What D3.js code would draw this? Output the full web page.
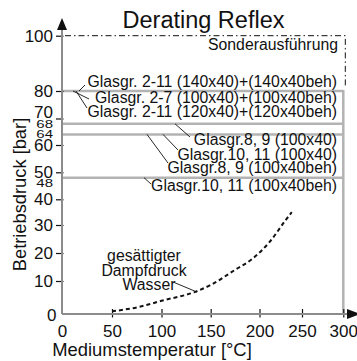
<!DOCTYPE html>
<html>
<head>
<meta charset="utf-8">
<script src="https://cdn.jsdelivr.net/npm/d3@7"></script>
<style>
  body { margin: 0; background: #fff; }
  svg { display: block; }
  text { font-family: 'Liberation Sans', Arial, sans-serif; fill: #111; }
</style>
</head>
<body>
<div id="chart"></div>
<script>
// values
var pressureTicks = [0, 10, 20, 30, 40, 50, 60, 70, 80, 100];
var limitTicks = [68, 64, 48];
var tempTicks = [0, 50, 100, 150, 200, 250, 300];
var limitLines = [80, 68, 64, 48];
var specialLimit = 100;
var maxTemp = 300;
var glassLabels = [
  'Glasgr. 2-11 (140x40)+(140x40beh)',
  'Glasgr. 2-7 (100x40)+(100x40beh)',
  'Glasgr. 2-11 (120x40)+(120x40beh)',
  'Glasgr.8, 9 (100x40)',
  'Glasgr.10, 11 (100x40)',
  'Glasgr.8, 9 (100x40beh)',
  'Glasgr.10, 11 (100x40beh)'
];
var glassLimit = [80, 80, 80, 68, 64, 64, 48];
var vaporTemp = [50, 78, 100, 135, 150, 175, 193, 212, 231, 238];
var vaporPressure = [0.8, 2.2, 4, 6.8, 8.8, 14, 18, 24, 32, 35];

var width = 357;
var height = 361;

var svg = d3.select('#chart').append('svg')
  .attr('width', width)
  .attr('height', height);

// the printed axes are not evenly spaced, so the scales follow the tick marks
var x = d3.scaleLinear()
  .domain([0, 50, 100, 150, 200, 250, 300])
  .range([62, 112, 161.5, 210.7, 259.5, 302, 343.3]);

var y = d3.scaleLinear()
  .domain([0, 10, 20, 30, 40, 50, 60, 70, 80, 100])
  .range([314, 281, 253, 225, 199.3, 172.3, 145, 118.5, 91, 35.7]);

var x0 = x(0), y0 = y(0);

// limit lines (grey)
svg.selectAll('.limit')
  .data(limitLines)
  .enter()
  .append('line')
  .attr('x1', x0)
  .attr('x2', x(maxTemp))
  .attr('y1', function(d) { return y(d); })
  .attr('y2', function(d) { return y(d); })
  .attr('stroke', '#b3b3b3')
  .attr('stroke-width', 2.5);

svg.append('line')
  .attr('x1', x(maxTemp)).attr('x2', x(maxTemp))
  .attr('y1', y(d3.max(limitLines)) - 1).attr('y2', y0)
  .attr('stroke', '#b3b3b3')
  .attr('stroke-width', 2.5);

// special version, dash-dot
svg.append('path')
  .attr('d', 'M' + (x0 + 3) + ',' + y(specialLimit) + 'H' + (x(maxTemp) + 2) + 'V' + (y(80) - 4))
  .attr('fill', 'none')
  .attr('stroke', '#111')
  .attr('stroke-width', 1)
  .attr('stroke-dasharray', '6,3,1.5,3');

// axes
var yAxis = d3.axisLeft(y).tickValues(pressureTicks).tickSize(6).tickPadding(3);
var gy = svg.append('g')
  .attr('transform', 'translate(' + x0 + ',0)')
  .call(yAxis);
gy.select('.domain').remove();
gy.selectAll('line').attr('x2', -6).attr('x1', 1.5).attr('stroke', '#111').attr('stroke-width', 1.2);
gy.selectAll('text')
  .style('font-size', '17px')
  .attr('fill', '#111');
gy.selectAll('.tick').filter(function(d) { return d === 0; })
  .call(function(t) {
    t.select('line').remove();
    t.select('text').attr('x', -5.5).attr('dy', '0.4em');
  });
gy.selectAll('.tick').filter(function(d) { return d === 70; })
  .select('text').attr('dy', '-0.05em');

var gySmall = svg.append('g')
  .attr('transform', 'translate(' + x0 + ',0)')
  .call(d3.axisLeft(y).tickValues(limitTicks).tickSize(0).tickPadding(9));
gySmall.select('.domain').remove();
gySmall.selectAll('text')
  .style('font-size', '15px')
  .attr('fill', '#111')
  .attr('transform', function(d) { return d === 48 ? 'translate(0,5) scale(1,0.7)' : 'scale(1,0.7)'; });

var xAxis = d3.axisBottom(x).tickValues(tempTicks).tickSize(6).tickPadding(4);
var gx = svg.append('g')
  .attr('transform', 'translate(0,' + y0 + ')')
  .call(xAxis);
gx.select('.domain').remove();
gx.selectAll('line').attr('y1', -5).attr('y2', 3.5).attr('stroke', '#111').attr('stroke-width', 1.2);
gx.selectAll('.tick').filter(function(d) { return d === 0; }).select('line').remove();
gx.selectAll('text')
  .style('font-size', '17px')
  .attr('fill', '#111')
  .attr('y', 23)
  .attr('dy', 0);

// axis lines with arrow heads
svg.append('line')
  .attr('x1', x0).attr('x2', x0)
  .attr('y1', y0).attr('y2', 28)
  .attr('stroke', '#8c8c8c').attr('stroke-width', 2);
svg.append('line')
  .attr('x1', x0).attr('x2', 348)
  .attr('y1', y0).attr('y2', y0)
  .attr('stroke', '#8c8c8c').attr('stroke-width', 2);
svg.append('path')
  .attr('d', 'M' + x0 + ',18L' + (x0 - 5) + ',30L' + (x0 + 5) + ',30Z')
  .attr('fill', '#111');
svg.append('path')
  .attr('d', 'M360,' + y0 + 'L347,' + (y0 - 5) + 'L347,' + (y0 + 5) + 'Z')
  .attr('fill', '#111');

// saturated vapour pressure of water
var vapor = vaporTemp.map(function(t, i) { return [t, vaporPressure[i]]; });
var line = d3.line()
  .x(function(d) { return x(d[0]); })
  .y(function(d) { return y(d[1]); })
  .curve(d3.curveMonotoneX);

svg.append('path')
  .datum(vapor)
  .attr('d', line)
  .attr('fill', 'none')
  .attr('stroke', '#111')
  .attr('stroke-width', 2)
  .attr('stroke-dasharray', '4,3');

// labels for the glass sizes with their leader lines
var glassLayout = [
  { base: 87,  lx: 79,  ex: 85,  ey: 85 },
  { base: 103, lx: 73,  ex: 89,  ey: 99 },
  { base: 117, lx: 76,  ex: 87,  ey: 108 },
  { base: 145, lx: 175, ex: 190, ey: 137 },
  { base: 160, lx: 163, ex: 178, ey: 150 },
  { base: 173, lx: 147, ex: 168, ey: 163 },
  { base: 191, lx: 144, ex: 151, ey: 184 }
];

glassLabels.forEach(function(label, i) {
  var lay = glassLayout[i];
  svg.append('line')
    .attr('x1', lay.lx).attr('y1', y(glassLimit[i]))
    .attr('x2', lay.ex).attr('y2', lay.ey)
    .attr('stroke', '#111')
    .attr('stroke-width', 0.9);
  svg.append('text')
    .attr('x', 337)
    .attr('y', lay.base)
    .attr('text-anchor', 'end')
    .style('font-size', '15.8px')
    .text(label);
});

svg.append('text')
  .attr('x', 338)
  .attr('y', 50)
  .attr('text-anchor', 'end')
  .style('font-size', '15.8px')
  .text('Sonderausführung');

// vapour curve label
var vaporLabel = ['gesättigter', 'Dampfdruck', 'Wasser'];
svg.append('text')
  .attr('text-anchor', 'middle')
  .style('font-size', '15.8px')
  .selectAll('tspan')
  .data(vaporLabel)
  .enter()
  .append('tspan')
  .attr('x', function(d, i) { return i === 2 ? 149 : 144; })
  .attr('y', function(d, i) { return 261 + i * 14.6; })
  .text(function(d) { return d; });

svg.append('line')
  .attr('x1', 173).attr('y1', 282)
  .attr('x2', 197).attr('y2', 292)
  .attr('stroke', '#111')
  .attr('stroke-width', 0.9);

// title and axis titles
svg.append('text')
  .attr('x', 203.5)
  .attr('y', 28)
  .attr('text-anchor', 'middle')
  .style('font-size', '23.5px')
  .text('Derating Reflex');

svg.append('text')
  .attr('x', 152)
  .attr('y', 356)
  .attr('text-anchor', 'middle')
  .style('font-size', '18.4px')
  .text('Mediumstemperatur [°C]');

svg.append('text')
  .attr('transform', 'translate(25.5,194.5) rotate(-90)')
  .attr('text-anchor', 'middle')
  .style('font-size', '18.3px')
  .text('Betriebsdruck [bar]');
</script>
</body>
</html>
